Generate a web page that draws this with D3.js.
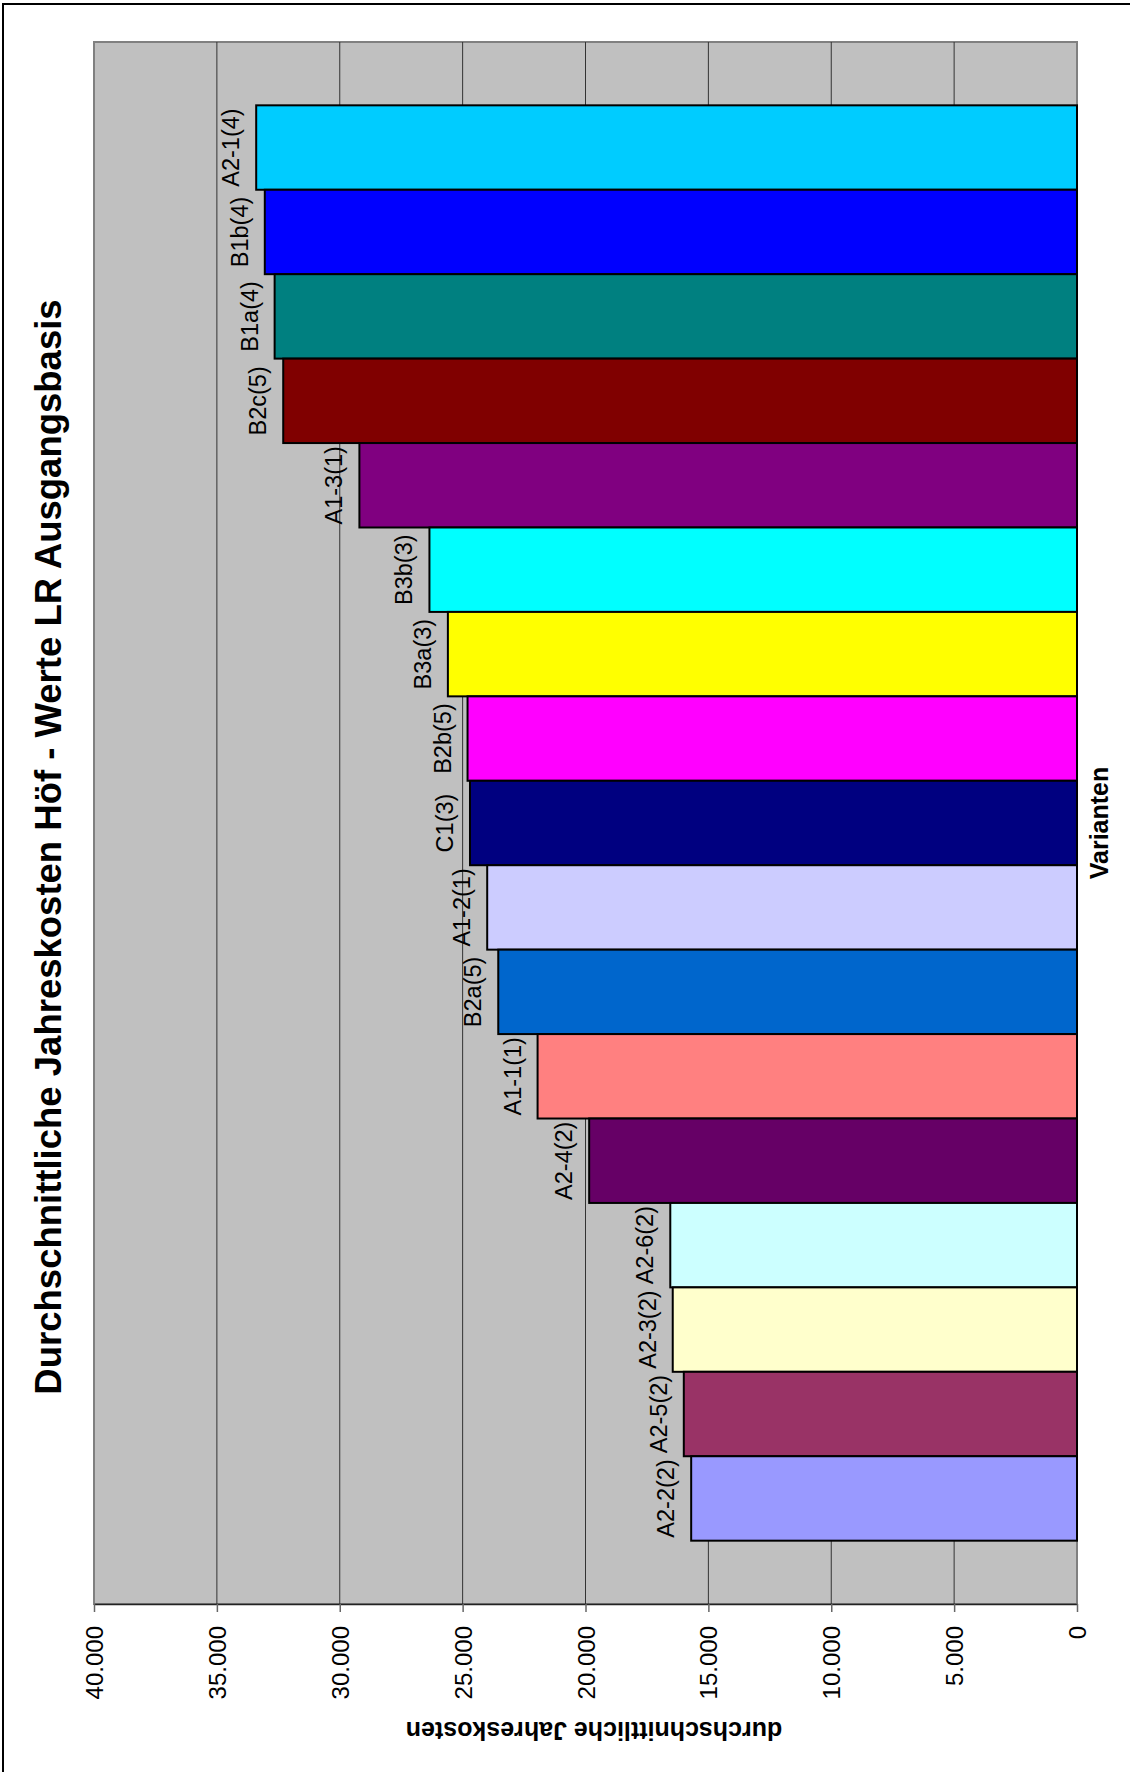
<!DOCTYPE html>
<html>
<head>
<meta charset="utf-8">
<script src="https://cdn.jsdelivr.net/npm/d3@7/dist/d3.min.js"></script>
<style>
  html, body { margin: 0; padding: 0; background: #fff; }
  svg { display: block; }
  text { font-family: "Liberation Sans", Arial, sans-serif; fill: #000; }
</style>
</head>
<body>
<svg id="chart" width="1130" height="1772"></svg>
<script>
// Variants, top to bottom
const categories = ["A2-1(4)", "B1b(4)", "B1a(4)", "B2c(5)", "A1-3(1)", "B3b(3)", "B3a(3)",
  "B2b(5)", "C1(3)", "A1-2(1)", "B2a(5)", "A1-1(1)", "A2-4(2)", "A2-6(2)", "A2-3(2)",
  "A2-5(2)", "A2-2(2)"];

// Average annual costs per variant
const values = [33400, 33050, 32650, 32300, 29200, 26350, 25600,
  24800, 24700, 24000, 23550, 21950, 19850, 16550, 16450,
  16000, 15700];

// Fill colour per variant
const colors = ["#00CCFF", "#0000FF", "#008080", "#800000", "#800080", "#00FFFF", "#FFFF00",
  "#FF00FF", "#000080", "#CCCCFF", "#0066CC", "#FF8080", "#660066", "#CCFFFF", "#FFFFCC",
  "#993366", "#9999FF"];

const tickValues = [0, 5000, 10000, 15000, 20000, 25000, 30000, 35000, 40000];

const titleText = "Durchschnittliche Jahreskosten Höf - Werte LR Ausgangsbasis";
const valueAxisTitle = "durchschnittliche Jahreskosten";
const categoryAxisTitle = "Varianten";

const svg = d3.select("#chart");
const plot = { left: 94, right: 1077, top: 42, bottom: 1604 };

const deLocale = d3.formatLocale({ decimal: ",", thousands: ".", grouping: [3], currency: ["", " €"] });
const fmt = deLocale.format(",d");

// value axis runs right (0) to left (40.000)
const x = d3.scaleLinear().domain([0, 40000]).range([plot.right, plot.left]);
const y = d3.scaleBand().domain(categories).range([plot.top, plot.bottom])
  .paddingInner(0).paddingOuter(0.75);

// outer frame
svg.append("path")
  .attr("d", "M3,1772V4H1130")
  .attr("fill", "none").attr("stroke", "#000").attr("stroke-width", 2);

// plot area
svg.append("rect")
  .attr("x", plot.left).attr("y", plot.top)
  .attr("width", plot.right - plot.left).attr("height", plot.bottom - plot.top)
  .attr("fill", "#C0C0C0").attr("stroke", "#808080").attr("stroke-width", 2);

// gridlines
svg.append("g").selectAll("line")
  .data(tickValues.filter(v => v > 0 && v < 40000))
  .join("line")
  .attr("x1", d => x(d)).attr("x2", d => x(d))
  .attr("y1", plot.top).attr("y2", plot.bottom)
  .attr("stroke", "#333").attr("stroke-width", 1);

// bars
svg.append("g").selectAll("rect")
  .data(categories)
  .join("rect")
  .attr("x", (d, i) => x(values[i]))
  .attr("y", d => y(d))
  .attr("width", (d, i) => x(0) - x(values[i]))
  .attr("height", y.bandwidth())
  .attr("fill", (d, i) => colors[i])
  .attr("stroke", "#000").attr("stroke-width", 2);

// variant labels at bar ends
svg.append("g").selectAll("text")
  .data(categories)
  .join("text")
  .attr("transform", (d, i) => `translate(${x(values[i]) - 17},${y(d) + y.bandwidth() / 2}) rotate(-90)`)
  .attr("text-anchor", "middle")
  .style("font-size", "23.5px")
  .text(d => d);

// value axis
const axis = svg.append("g")
  .attr("transform", `translate(0,${plot.bottom})`)
  .call(d3.axisBottom(x).tickValues(tickValues).tickFormat(fmt).tickSize(8).tickSizeOuter(0));
axis.select(".domain").attr("stroke", "#222").attr("stroke-width", 1.5);
axis.selectAll(".tick line").attr("stroke", "#666").attr("stroke-width", 1.5);
axis.selectAll(".tick text")
  .attr("y", 0).attr("dy", null)
  .attr("transform", "translate(0,22) rotate(-90)")
  .attr("text-anchor", "end")
  .attr("dominant-baseline", "central")
  .attr("fill", "#000")
  .style("font-size", "24px")
  .style("font-family", "'Liberation Sans', Arial, sans-serif");

// value axis title (upside down)
svg.append("text")
  .attr("transform", "translate(594,1722) rotate(180)")
  .attr("text-anchor", "middle")
  .style("font-size", "25px").style("font-weight", "bold")
  .text(valueAxisTitle);

// category axis title
svg.append("text")
  .attr("transform", `translate(1108,${(plot.top + plot.bottom) / 2}) rotate(-90)`)
  .attr("text-anchor", "middle")
  .style("font-size", "25px").style("font-weight", "bold")
  .text(categoryAxisTitle);

// chart title
svg.append("text")
  .attr("transform", "translate(61,847) rotate(-90)")
  .attr("text-anchor", "middle")
  .style("font-size", "36.5px").style("font-weight", "bold")
  .text(titleText);
</script>
</body>
</html>
